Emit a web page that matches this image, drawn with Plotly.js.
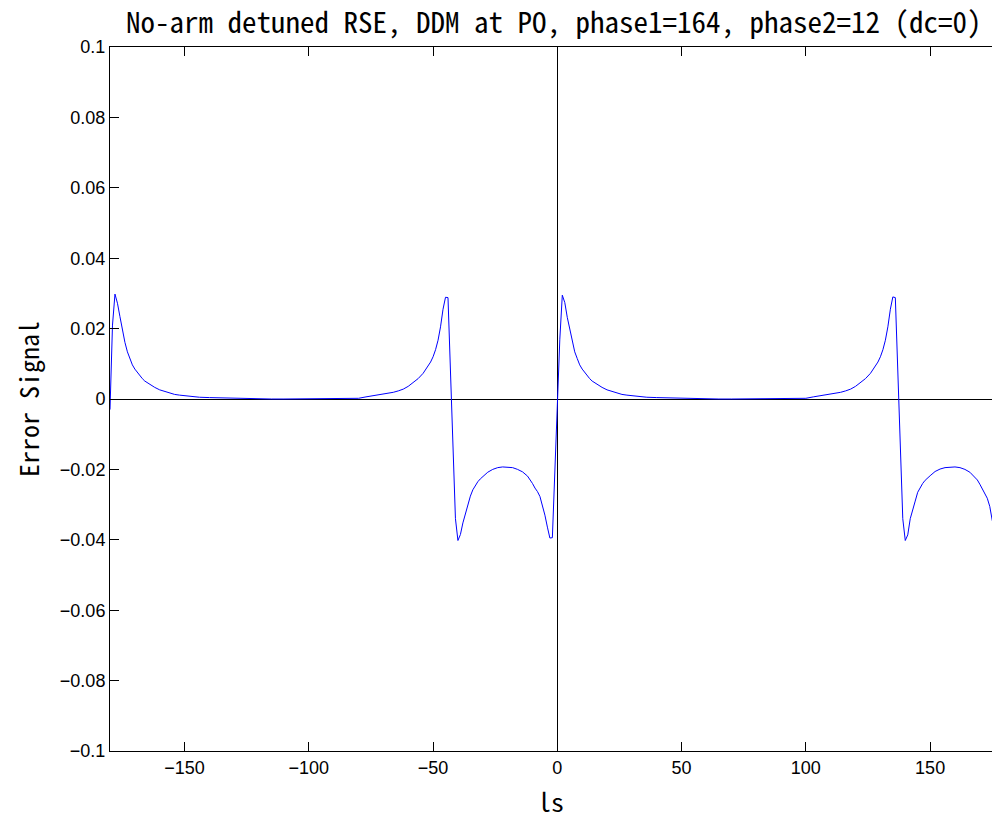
<!DOCTYPE html>
<html>
<head>
<meta charset="utf-8">
<script src="https://cdn.plot.ly/plotly-3.0.1.min.js"></script>
<style>html,body{margin:0;padding:0;background:#fff;}#plot{width:992px;height:819px;}</style>
</head>
<body>
<div id="plot"></div>
<script>
// ls (degrees) sample positions
const lsValues = [
 -180,-179,-178,-177,-176,-175,-174,-173,-172,-171,-170,-169,-168,-167,-166,-164,-162,-160,-158,-156,-154,-152,-150,-147,-144,-140,-135,-130,-125,-120,-115,-110,-105,-100,-95,-90,-85,-80,-77,-74,-72,-70,-68,-66,-64,-62,-60,-58,-56,-54,-52,-51,-50,-49,-48,-47,-46,-45,-44,-43,-42,-41,-40,-39,-38,-37,-36,-35,-34,-33,-32,-31,-30,-28,-26,-24,-22,-20,-18,-16,-14,-12,-11,-10,-9,-8,-7,-6,-5,-4,-3,-2,-1,
 0,1,2,3,4,5,6,7,8,9,10,11,12,13,14,16,18,20,22,24,26,28,30,33,36,40,45,50,55,60,65,70,75,80,85,90,95,100,103,106,108,110,112,114,116,118,120,122,124,126,128,129,130,131,132,133,134,135,136,137,138,139,140,141,142,143,144,145,146,147,148,149,150,152,154,156,158,160,162,164,166,168,169,170,171,172,173,174,175,176,177,178,179,180
];
// Error signal values
const errorSignal = [
 -0.003,0.021,0.0298,0.0272,0.0234,0.0196,0.0161,0.0134,0.0113,0.0097,0.0085,0.0075,0.0066,0.0058,0.0051,0.0041,0.0033,0.0026,0.0021,0.0016,0.0013,0.0011,0.0009,0.0007,0.0005,0.0004,0.0003,0.0002,0.0,0.0,0.0,0.0,0.0,0.0,0.0,0.0002,0.0002,0.0002,0.0006,0.0009,0.0011,0.0013,0.0016,0.0019,0.0023,0.0028,0.0036,0.0046,0.0058,0.0073,0.0092,0.0105,0.0120,0.0140,0.0167,0.0205,0.0255,0.0289,0.0288,0.0080,-0.0130,-0.0340,-0.0402,-0.0385,-0.0352,-0.0325,-0.0300,-0.0276,-0.0258,-0.0245,-0.0235,-0.0227,-0.0220,-0.0208,-0.0200,-0.0195,-0.0193,-0.0193,-0.0195,-0.0200,-0.0207,-0.0219,-0.0228,-0.0240,-0.0253,-0.0263,-0.0277,-0.0300,-0.0330,-0.0364,-0.0395,-0.0394,-0.0190,
 0.0,0.017,0.0295,0.0274,0.0232,0.0196,0.0160,0.0134,0.0115,0.0097,0.0085,0.0075,0.0066,0.0058,0.0051,0.0041,0.0033,0.0026,0.0021,0.0016,0.0013,0.0011,0.0009,0.0007,0.0005,0.0004,0.0003,0.0002,0.0,0.0,0.0,0.0,0.0,0.0,0.0,0.0002,0.0002,0.0002,0.0006,0.0009,0.0011,0.0013,0.0016,0.0019,0.0023,0.0028,0.0036,0.0046,0.0058,0.0073,0.0092,0.0105,0.0120,0.0140,0.0167,0.0205,0.0255,0.0290,0.0288,0.0080,-0.0130,-0.0340,-0.0402,-0.0386,-0.0340,-0.0312,-0.0290,-0.0265,-0.0250,-0.0240,-0.0231,-0.0224,-0.0218,-0.0206,-0.0199,-0.0195,-0.0193,-0.0193,-0.0195,-0.0200,-0.0208,-0.0221,-0.0230,-0.0242,-0.0254,-0.0266,-0.0282,-0.0305,-0.0345,-0.0372,-0.0396,-0.0394,-0.0190,0.0
];
const xTickVals = [-150,-100,-50,0,50,100,150];
const xTickText = ['\u2212150','\u2212100','\u221250','0','50','100','150'];
const yTickVals = [0.1,0.08,0.06,0.04,0.02,0,-0.02,-0.04,-0.06,-0.08,-0.1];
const yTickText = ['0.1','0.08','0.06','0.04','0.02','0','\u22120.02','\u22120.04','\u22120.06','\u22120.08','\u22120.1'];

const gothic = '"Noto Sans Mono CJK JP", "Noto Sans CJK JP", monospace';
const tickFont = {family: '"Liberation Sans", Arial, sans-serif', size: 18, color: '#000'};

const trace = {
  x: lsValues, y: errorSignal, type: 'scatter', mode: 'lines',
  line: {color: '#0000ff', width: 1}, hoverinfo: 'skip'
};

const layout = {
  width: 992, height: 819,
  paper_bgcolor: '#fff', plot_bgcolor: '#fff',
  margin: {l: 110, r: 0, t: 47, b: 68, pad: 0},
  showlegend: false,
  title: {
    text: 'No-arm detuned RSE, DDM at PO, phase1=164, phase2=12 (dc=0)',
    font: {family: gothic, size: 29, color: '#000'},
    xref: 'paper', x: 0.503, xanchor: 'center',
    yref: 'container', y: 1 - 23/819, yanchor: 'middle'
  },
  xaxis: {
    range: [-180, 174.9], autorange: false,
    showline: true, linecolor: '#000', linewidth: 1, mirror: 'ticks',
    ticks: 'inside', ticklen: 9, tickwidth: 1, tickcolor: '#000',
    tickvals: xTickVals, ticktext: xTickText, tickfont: tickFont,
    showgrid: false, zeroline: true, zerolinecolor: '#000', zerolinewidth: 1,
    title: {text: 'ls', font: {family: gothic, size: 26, color: '#000'}, standoff: 22},
    automargin: false
  },
  yaxis: {
    range: [-0.1, 0.1], autorange: false,
    showline: true, linecolor: '#000', linewidth: 1, mirror: false,
    ticks: 'inside', ticklen: 9, tickwidth: 1, tickcolor: '#000',
    tickvals: yTickVals, ticktext: yTickText, tickfont: tickFont,
    showgrid: false, zeroline: true, zerolinecolor: '#000', zerolinewidth: 1,
    title: {text: 'Error Signal', font: {family: gothic, size: 26, color: '#000'}, standoff: 12},
    automargin: false
  }
};

Plotly.newPlot('plot', [trace], layout, {displayModeBar: false, staticPlot: true});
</script>
</body>
</html>
